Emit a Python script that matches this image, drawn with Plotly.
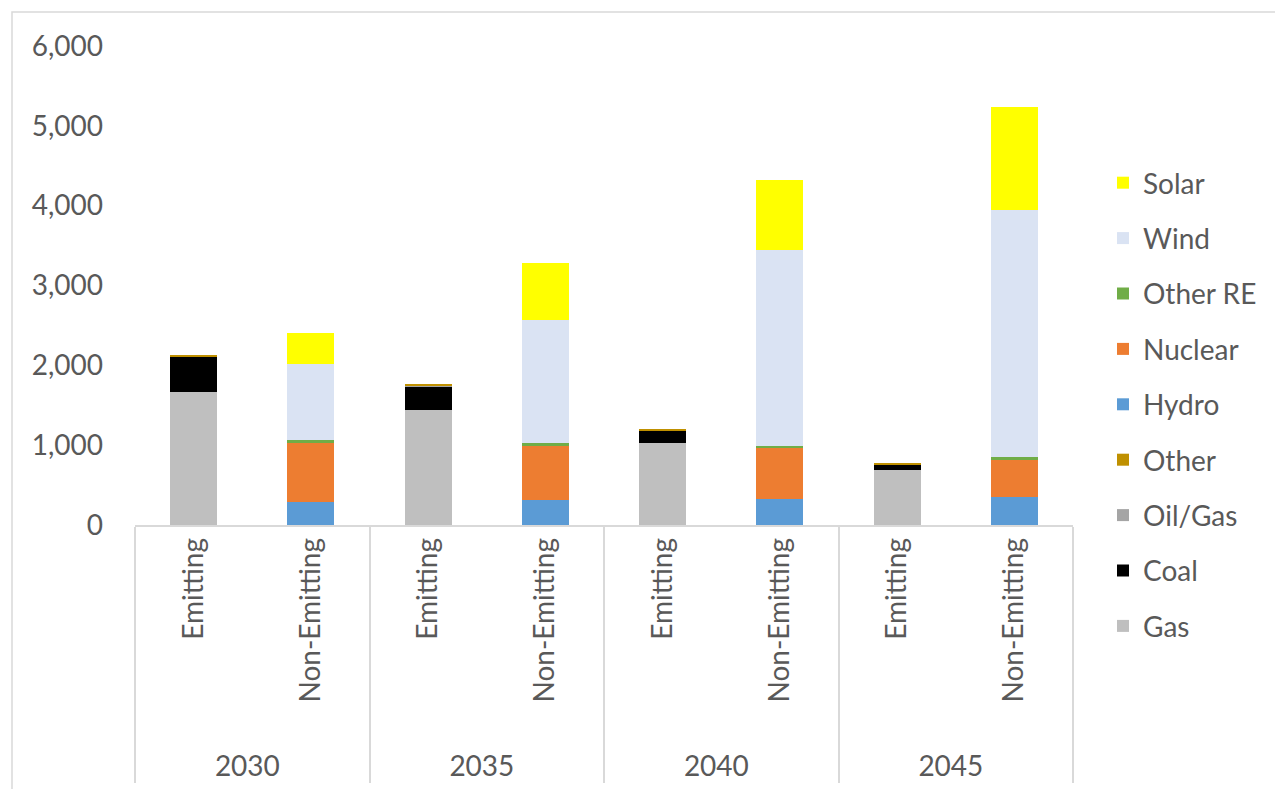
import plotly.graph_objects as go

# Category levels: year group and emitting / non-emitting split
years = ["2030", "2030", "2035", "2035", "2040", "2040", "2045", "2045"]
kinds = ["Emitting", "Non-Emitting"] * 4

# Generation by source (stacked bottom to top)
gas = [1670, 0, 1441, 0, 1024, 0, 689, 0]
coal = [435, 0, 292, 0, 154, 0, 63, 0]
oil_gas = [10, 0, 5, 0, 5, 0, 5, 0]
other = [20, 0, 25, 0, 25, 0, 15, 0]
hydro = [0, 290, 0, 310, 0, 320, 0, 345]
nuclear = [0, 735, 0, 680, 0, 640, 0, 470]
other_re = [0, 40, 0, 35, 0, 35, 0, 40]
wind = [0, 950, 0, 1545, 0, 2450, 0, 3090]
solar = [0, 395, 0, 710, 0, 880, 0, 1295]

series = [
    ("Gas", gas, "#BFBFBF"),
    ("Coal", coal, "#000000"),
    ("Oil/Gas", oil_gas, "#A5A5A5"),
    ("Other", other, "#BF9000"),
    ("Hydro", hydro, "#5B9BD5"),
    ("Nuclear", nuclear, "#ED7D31"),
    ("Other RE", other_re, "#70AD47"),
    ("Wind", wind, "#DAE3F3"),
    ("Solar", solar, "#FFFF00"),
]

font_family = "Lato, Open Sans, sans-serif"
text_color = "#595959"
fsize = 28

# Leading no-break spaces lengthen the rotated inner labels away from the
# axis, which drops the year row and dividers lower.
kind_labels = ["\u00a0" * 3 + k for k in kinds]

fig = go.Figure()
n = len(series)
for i, (name, vals, color) in enumerate(series):
    fig.add_trace(go.Bar(
        name=name,
        x=[years, kind_labels],
        y=vals,
        marker=dict(color=color, line=dict(width=0)),
        legendgroup=name,
        legendrank=n - i,  # top of the stack listed first
    ))

W, H = 1275, 789
ml, mr, mt, mb = 135, 202, 46, 264
pw = W - ml - mr
ph = H - mt - mb

fig.update_layout(
    width=W, height=H,
    barmode="stack",
    bargap=0.6,
    plot_bgcolor="white",
    paper_bgcolor="white",
    margin=dict(l=ml, r=mr, t=mt, b=mb, autoexpand=False),
    font=dict(family=font_family, size=fsize, color=text_color),
    legend=dict(
        traceorder="grouped",
        x=1.032, xanchor="left",
        yref="container",
        y=1 - 404.5 / H, yanchor="middle",
        maxheight=760,
        font=dict(size=fsize, color=text_color),
        tracegroupgap=16,
        itemwidth=30,
        bgcolor="rgba(0,0,0,0)",
    ),
    xaxis=dict(
        type="multicategory",
        tickangle=-90,
        showline=True,
        linecolor="#D9D9D9",
        linewidth=1.5,
        showdividers=True,
        dividercolor="#D9D9D9",
        dividerwidth=1.5,
        ticks="",
        showgrid=False,
        tickfont=dict(size=fsize, color=text_color),
    ),
    yaxis=dict(
        range=[0, 6000],
        tickvals=[0, 1000, 2000, 3000, 4000, 5000, 6000],
        tickformat=",d",
        showgrid=False,
        zeroline=False,
        showline=False,
        ticks="",
        ticklabelstandoff=31,
        tickfont=dict(size=fsize, color=text_color),
    ),
    shapes=[dict(
        type="rect", xref="paper", yref="paper",
        x0=(12 - ml) / pw, x1=(1290 - ml) / pw,
        y0=-(H + 10 - mt - ph) / ph, y1=(H - mb - 12) / ph,
        line=dict(color="#D9D9D9", width=1.5),
        fillcolor="rgba(0,0,0,0)", layer="below",
    )],
)

fig.write_html("out.html")
